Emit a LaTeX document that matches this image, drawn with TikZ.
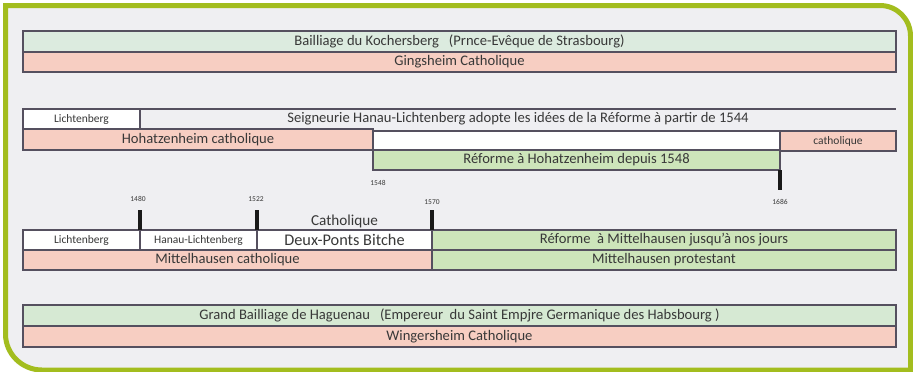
\documentclass[tikz,border=0pt]{standalone}
\usepackage{fontspec}
\setmainfont{Carlito}
\definecolor{framegreen}{HTML}{A3BD1E}
\definecolor{bgpanel}{HTML}{EFEFF2}
\definecolor{mint}{HTML}{DCEBDF}
\definecolor{pinkc}{HTML}{F7CEC2}
\definecolor{greenr}{HTML}{CDE5BA}
\definecolor{greeng}{HTML}{D6E9D3}
\definecolor{edge}{HTML}{55505F}
\definecolor{txt}{HTML}{383838}
\tikzset{
  x=1pt, y=-1pt,
  bar/.style={draw=edge, line width=1.1pt, anchor=north west, inner sep=0pt, outer sep=0pt, text=txt,
    font=\fontsize{14.6}{15}\selectfont},
  yeartxt/.style={font=\fontsize{7.5}{8}\selectfont, text=txt, inner sep=0pt},
  tickline/.style={draw=black!90, line width=3.2pt},
}
\newcommand{\barbox}[7]{%
  \node[bar, fill=#6, minimum width=#4pt-#2pt, minimum height=#5pt-#3pt] (#1) at (#2,#3) {#7};}
\newcommand{\smallfs}{\fontsize{11.5}{12}\selectfont}
\begin{document}
\begin{tikzpicture}
\useasboundingbox (0,0) rectangle (913,372);
\fill[white] (0,0) rectangle (913,372);
% frame
\filldraw[draw=framegreen, fill=bgpanel, line width=5pt]
  (5.5,5.5) -- (880,5.5) .. controls (897,5.5) and (910.5,19) .. (910.5,36)
  -- (910.5,370) -- (42,370) .. controls (22,370) and (5.5,354) .. (5.5,334) -- cycle;

% Kochersberg
\barbox{koch}{23}{31}{896}{52}{mint}{Bailliage du Kochersberg\ \ \ (Prnce-Evêque de Strasbourg)}
\barbox{ging}{23}{52}{896}{72}{pinkc}{Gingsheim Catholique}

% Hohatzenheim
\barbox{lich1}{23}{109}{140}{129}{white}{\smallfs Lichtenberg}
\node[anchor=north west, minimum width=756pt, minimum height=20pt, inner sep=0pt, outer sep=0pt, text=txt,
  font=\fontsize{14.6}{15}\selectfont] (seig) at (140,109)
  {Seigneurie Hanau-Lichtenberg adopte les idées de la Réforme à partir de 1544};
\draw[draw=edge, line width=1.1pt] (seig.north west) -- (seig.north east);
\barbox{hohcat}{23}{129}{373}{150}{pinkc}{Hohatzenheim catholique}
\barbox{hohwhite}{373}{131}{780}{150}{white}{}
\barbox{hohref}{373}{150}{780}{170}{greenr}{Réforme à Hohatzenheim depuis 1548}
\barbox{hohcat2}{780}{131}{896}{151}{pinkc}{\smallfs catholique}
\node[yeartxt] (y1548) at (378,183) {1548};
\node[yeartxt] (y1686) at (780,202) {1686};
\coordinate (t1686) at (780,190);
\draw[tickline] (hohref.south east) -- (t1686);

% Mittelhausen
\barbox{lich2}{23}{230}{140}{250}{white}{\smallfs Lichtenberg}
\barbox{hanau}{140}{230}{257}{250}{white}{\smallfs Hanau-Lichtenberg}
\barbox{deux}{257}{230}{432}{250}{white}{\fontsize{16.3}{17}\selectfont Deux-Ponts Bitche}
\barbox{refm}{432}{230}{896}{250}{greenr}{Réforme\ \ à Mittelhausen jusqu'à nos jours}
\barbox{mcat}{23}{250}{432}{270}{pinkc}{Mittelhausen catholique}
\barbox{mprot}{432}{250}{896}{270}{greenr}{Mittelhausen protestant}
\node[text=txt, font=\fontsize{15.2}{16}\selectfont, inner sep=0pt] (cath) at (344.5,221) {Catholique};
\node[yeartxt] (y1480) at (138,199) {1480};
\node[yeartxt] (y1522) at (256,199) {1522};
\node[yeartxt] (y1570) at (432,202) {1570};
\coordinate (t1480) at (140,210);
\coordinate (t1522) at (257,210);
\coordinate (t1570) at (432,210);
\draw[tickline] (t1480) -- (lich2.north east);
\draw[tickline] (t1522) -- (hanau.north east);
\draw[tickline] (t1570) -- (deux.north east);

% Haguenau
\barbox{hag}{23}{305}{896}{326}{greeng}{Grand Bailliage de Haguenau\ \ \ (Empereur\ \ du Saint Empjre Germanique des Habsbourg )}
\barbox{wing}{23}{326}{896}{347}{pinkc}{Wingersheim Catholique}
\end{tikzpicture}
\end{document}
